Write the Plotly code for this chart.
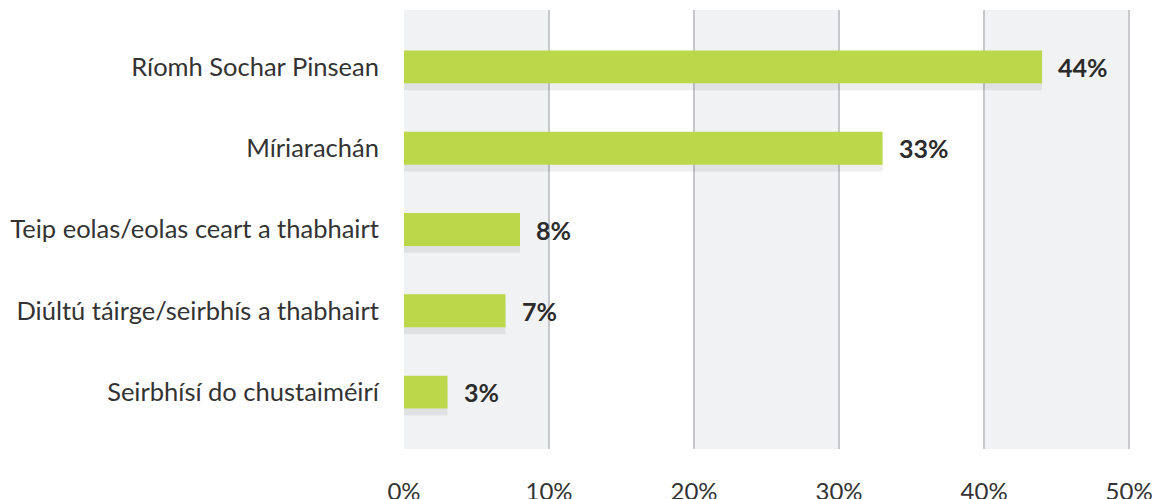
import plotly.graph_objects as go

categories = ["Ríomh Sochar Pinsean", "Míriarachán", "Teip eolas/eolas ceart a thabhairt",
              "Diúltú táirge/seirbhís a thabhairt", "Seirbhísí do chustaiméirí"]
values = [44, 33, 8, 7, 3]
labels = ["44%", "33%", "8%", "7%", "3%"]
tick_vals = [0, 10, 20, 30, 40, 50]
tick_text = ["0%", "10%", "20%", "30%", "40%", "50%"]

ypos = list(range(len(categories)))
shadow_offset = 0.085

fig = go.Figure()
fig.add_trace(go.Bar(
    x=values, y=[p + shadow_offset for p in ypos], orientation="h",
    marker=dict(color="rgba(0,0,0,0.065)", line=dict(width=0)),
    width=0.405, hoverinfo="skip", showlegend=False,
))
fig.add_trace(go.Bar(
    x=values, y=ypos, orientation="h",
    marker=dict(color="#bbd84b", line=dict(width=0)),
    width=0.405, showlegend=False,
))

for v, p, t in zip(values, ypos, labels):
    fig.add_annotation(x=v, y=p, text=t, showarrow=False, xanchor="left",
                       xshift=14, font=dict(family="Lato", size=25, color="#2b2b2b", weight="bold"))

shapes = []
for a in (0, 20, 40):
    shapes.append(dict(type="rect", xref="x", yref="paper", x0=a, x1=a + 10, y0=0, y1=1,
                       fillcolor="#f1f2f4", line=dict(width=0), layer="below"))

fig.update_layout(
    width=1150, height=491,
    margin=dict(l=396, r=26, t=2, b=50, autoexpand=False),
    paper_bgcolor="white", plot_bgcolor="white",
    font=dict(family="Lato", size=25, color="#333333"),
    barmode="overlay",
    shapes=shapes,
    xaxis=dict(range=[0, 50.2], tickvals=tick_vals, ticktext=tick_text,
               showgrid=True, gridcolor="#c8c8cc", gridwidth=2, zeroline=False,
               ticks="outside", ticklen=21, tickcolor="rgba(0,0,0,0)",
               tickfont=dict(size=24, color="#333333"), fixedrange=True),
    yaxis=dict(range=[4.7, -0.7], tickvals=ypos, ticktext=categories,
               showgrid=False, zeroline=False,
               ticks="outside", ticklen=19, tickcolor="rgba(0,0,0,0)",
               tickfont=dict(size=25.5, color="#333333"), fixedrange=True),
)

fig.write_html("out.html")
